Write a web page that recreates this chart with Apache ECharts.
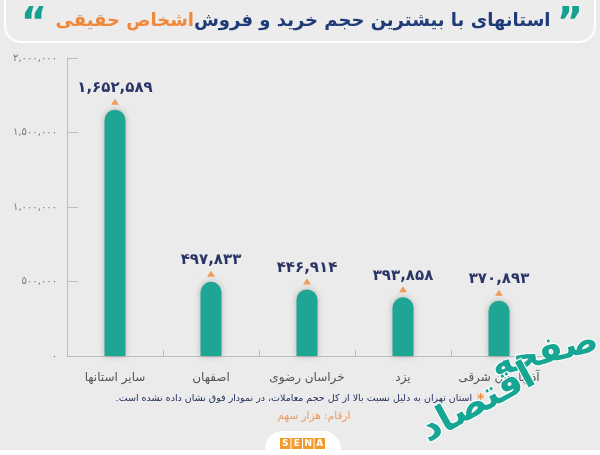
<!DOCTYPE html>
<html>
<head>
<meta charset="utf-8">
<script src="https://cdn.jsdelivr.net/npm/echarts@6/dist/echarts.min.js"></script>
<style>
  html, body { margin: 0; padding: 0; background: #ebebeb; }
  #main { width: 600px; height: 455px; }
</style>
</head>
<body>
<div id="main"></div>
<script>
// داده‌ها
var provinces = ['سایر استانها', 'اصفهان', 'خراسان رضوی', 'یزد', 'آذربایجان شرقی'];
var volumes = [1652589, 497833, 446914, 393858, 370893];
var yTicks = [0, 500000, 1000000, 1500000, 2000000];

var FONT = "'DejaVu Sans', 'Noto Sans', sans-serif";

function faNum(n) {
    var s = String(n).replace(/\B(?=(\d{3})+(?!\d))/g, ',');
    return s.replace(/\d/g, function (d) { return '۰۱۲۳۴۵۶۷۸۹'[+d]; });
}

var myChart = echarts.init(document.getElementById('main'));
option = {
    backgroundColor: '#ebebeb',
    animation: false,
    grid: { left: 67, right: 53, top: 58, bottom: 99 },
    xAxis: {
        type: 'category',
        data: provinces,
        axisLine: { lineStyle: { color: '#bdbdbd' } },
        axisTick: { show: true, inside: true, length: 6, lineStyle: { color: '#bdbdbd' } },
        axisLabel: { interval: 0, color: '#555', fontSize: 12, fontFamily: FONT, margin: 16 }
    },
    yAxis: {
        type: 'value',
        min: yTicks[0],
        max: yTicks[yTicks.length - 1],
        interval: 500000,
        axisLine: { show: true, lineStyle: { color: '#bdbdbd' } },
        axisTick: { show: true, inside: true, length: 11, lineStyle: { color: '#bdbdbd' } },
        splitLine: { show: false },
        axisLabel: {
            color: '#777', fontSize: 10, fontFamily: FONT, margin: 10,
            formatter: function (v) { return faNum(v); }
        }
    },
    series: [
        {
            type: 'bar',
            data: volumes,
            barWidth: 21,
            itemStyle: {
                color: '#1ea594',
                borderRadius: [11, 11, 0, 0],
                shadowBlur: 6,
                shadowColor: 'rgba(0,0,0,0.25)'
            },
            label: {
                show: true,
                position: 'top',
                distance: 14,
                color: '#2b3566',
                fontSize: 15,
                fontWeight: 'bold',
                fontFamily: FONT,
                formatter: function (p) { return faNum(p.value); }
            }
        },
        {
            type: 'scatter',
            data: volumes,
            symbol: 'triangle',
            symbolSize: [8, 6],
            symbolOffset: [0, -8],
            itemStyle: { color: '#f0883a' },
            silent: true,
            z: 5
        }
    ],
    graphic: [
        {
            type: 'rect',
            shape: { x: 5, y: -20, width: 590, height: 62, r: 16 },
            style: { fill: '#ececec', stroke: '#ffffff', lineWidth: 2 },
            z: 1
        },
        {
            type: 'text',
            x: 303, y: 21,
            style: {
                text: '{o|اشخاص حقیقی}{n|استانهای با بیشترین حجم خرید و فروش}',
                align: 'center', verticalAlign: 'middle',
                rich: {
                    o: { fill: '#f0883a', fontSize: 18, fontWeight: 'bold', fontFamily: FONT },
                    n: { fill: '#1f3b78', fontSize: 18, fontWeight: 'bold', fontFamily: FONT }
                }
            },
            z: 2
        },
        {
            type: 'text', x: 570, y: 26,
            style: { text: '”', fill: '#16a08f', fontSize: 40, fontWeight: 'bold', fontFamily: FONT, align: 'center', verticalAlign: 'middle' },
            z: 2
        },
        {
            type: 'text', x: 34, y: 26,
            style: { text: '“', fill: '#16a08f', fontSize: 40, fontWeight: 'bold', fontFamily: FONT, align: 'center', verticalAlign: 'middle' },
            z: 2
        },
        {
            type: 'text',
            x: 300, y: 399,
            style: {
                text: '{t|استان تهران به دلیل نسبت بالا از کل حجم معاملات، در نمودار فوق نشان داده نشده است.\u200F}{s| *}',
                align: 'center', verticalAlign: 'middle',
                rich: {
                    t: { fill: '#24305e', fontSize: 9.5, fontFamily: FONT },
                    s: { fill: '#f0883a', fontSize: 14, fontWeight: 'bold', fontFamily: FONT }
                }
            },
            z: 2
        },
        {
            type: 'text',
            x: 314, y: 416,
            style: { text: 'ارقام: هزار سهم', fill: '#eb9a62', fontSize: 10.5, fontFamily: FONT, align: 'center', verticalAlign: 'middle' },
            z: 2
        },
        {
            type: 'rect',
            shape: { x: 0, y: 450, width: 600, height: 10 },
            style: { fill: '#ffffff' },
            z: 1
        },
        {
            type: 'rect',
            shape: { x: 265, y: 431, width: 76, height: 40, r: 18 },
            style: { fill: '#ffffff' },
            z: 1
        },
        {
            type: 'group',
            x: 280, y: 438,
            z: 3,
            children: ['S', 'E', 'N', 'A'].map(function (ch, i) {
                return {
                    type: 'group',
                    x: i * 11.5,
                    z: 3,
                    children: [
                        { type: 'rect', z: 3, shape: { x: 0, y: 0, width: 10.5, height: 11 }, style: { fill: '#f39a2d' } },
                        { type: 'text', z: 4, x: 5.25, y: 5.8, style: { text: ch, fill: '#fff', fontSize: 9, fontWeight: 'bold', fontFamily: FONT, align: 'center', verticalAlign: 'middle' } }
                    ]
                };
            })
        },
        {
            type: 'text',
            x: 545, y: 354,
            rotation: 0.25,
            style: {
                text: 'صفحه',
                fill: '#17a594', stroke: '#ffffff', lineWidth: 2,
                fontSize: 36, fontWeight: 'bold', fontFamily: FONT,
                align: 'center', verticalAlign: 'middle'
            },
            z: 10
        },
        {
            type: 'text',
            x: 478, y: 404,
            rotation: 0.5,
            style: {
                text: 'اقتصاد',
                fill: '#17a594', stroke: '#ffffff', lineWidth: 2,
                fontSize: 38, fontWeight: 'bold', fontFamily: FONT,
                align: 'center', verticalAlign: 'middle'
            },
            z: 10
        }
    ]
};
myChart.setOption(option);
</script>
</body>
</html>
